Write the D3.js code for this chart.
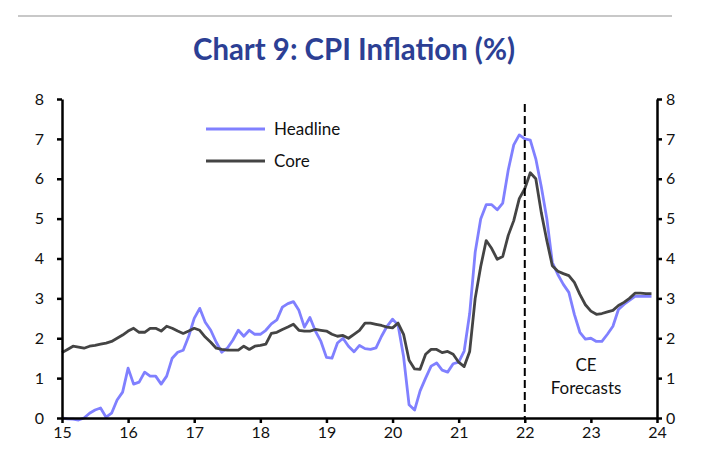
<!DOCTYPE html>
<html>
<head>
<meta charset="utf-8">
<script src="https://cdn.jsdelivr.net/npm/d3@7"></script>
<style>
  body { margin: 0; background: #fff; }
  svg text { font-family: Lato, "Open Sans", sans-serif; fill: #111; }
</style>
</head>
<body>
<div id="chart"></div>
<script>
// monthly data, Jan 2015 to Dec 2023 (2022 onwards = CE forecasts)
const startYear = 15;
const headline = [
  0.0, -0.02, -0.03, -0.05, 0.0, 0.12, 0.2, 0.25, 0.02, 0.12, 0.45, 0.65,
  1.25, 0.85, 0.9, 1.15, 1.05, 1.05, 0.85, 1.05, 1.5, 1.65, 1.7, 2.05,
  2.5, 2.75, 2.4, 2.2, 1.9, 1.65, 1.75, 1.95, 2.2, 2.05, 2.2, 2.1,
  2.1, 2.2, 2.36, 2.46, 2.78, 2.87, 2.92, 2.7, 2.28, 2.52, 2.18, 1.92,
  1.52, 1.5, 1.88, 2.0, 1.8, 1.66, 1.82, 1.74, 1.72, 1.76, 2.05, 2.3,
  2.48, 2.33, 1.54, 0.33, 0.2, 0.68, 1.0, 1.3, 1.38, 1.2, 1.15, 1.36,
  1.4, 1.68, 2.62, 4.16, 4.99, 5.35, 5.35, 5.22, 5.39, 6.22, 6.85, 7.1,
  7.0, 6.97, 6.5, 5.8, 5.0, 3.9, 3.6, 3.35, 3.15, 2.6, 2.15, 1.98,
  2.0, 1.92, 1.92, 2.1, 2.3, 2.72, 2.85, 2.95, 3.05, 3.05, 3.05, 3.05
];
const core = [
  1.64, 1.72, 1.8, 1.78, 1.75, 1.8, 1.82, 1.85, 1.88, 1.92, 2.0, 2.08,
  2.18, 2.25, 2.15, 2.15, 2.25, 2.25, 2.18, 2.3, 2.25, 2.18, 2.12, 2.18,
  2.25, 2.2, 2.03, 1.9, 1.75, 1.72, 1.7, 1.7, 1.7, 1.8, 1.72, 1.8,
  1.82, 1.85, 2.12, 2.15, 2.22, 2.28, 2.35, 2.2, 2.18, 2.18, 2.22, 2.2,
  2.18, 2.1, 2.05, 2.07, 2.0, 2.1, 2.2, 2.38, 2.38, 2.35, 2.32, 2.28,
  2.26, 2.38, 2.1, 1.45, 1.23, 1.22, 1.6, 1.72, 1.72, 1.64, 1.67, 1.6,
  1.4, 1.29, 1.67, 3.0, 3.8, 4.45, 4.25, 3.98, 4.05, 4.58, 4.95, 5.5,
  5.75, 6.15, 6.0, 5.15, 4.45, 3.82, 3.68, 3.62, 3.57, 3.4, 3.1, 2.84,
  2.68, 2.6, 2.62, 2.66, 2.7, 2.82, 2.9, 3.0, 3.13, 3.13, 3.12, 3.12
];
const yearTicks = [15, 16, 17, 18, 19, 20, 21, 22, 23, 24];
const valueTicks = [0, 1, 2, 3, 4, 5, 6, 7, 8];
const forecastStart = 22;
const seriesNames = ["Headline", "Core"];
const seriesColors = ["#8080ff", "#444444"];

const width = 703, height = 462;
const margin = {top: 99, right: 46, bottom: 44, left: 62};

const svg = d3.select("#chart")
  .append("svg")
  .attr("width", width)
  .attr("height", height);

// top rule and title
svg.append("line")
  .attr("x1", 18).attr("x2", 672)
  .attr("y1", 16).attr("y2", 16)
  .attr("stroke", "#c8c8c8").attr("stroke-width", 2);

svg.append("text")
  .attr("x", 193).attr("y", 60)
  .attr("textLength", 322)
  .attr("lengthAdjust", "spacingAndGlyphs")
  .style("font-family", "Lato, sans-serif")
  .style("font-weight", "bold")
  .style("font-size", "30px")
  .style("fill", "#2c3f94")
  .text("Chart 9: CPI Inflation (%)");

const x = d3.scaleLinear()
  .domain([15, 24])
  .range([margin.left, width - margin.right]);

const y = d3.scaleLinear()
  .domain([0, 8])
  .range([height - margin.bottom, margin.top]);

// lines
const line = d3.line()
  .x(function(d, i) { return x(startYear + i / 12); })
  .y(function(d) { return y(d); });

[headline, core].forEach(function(s, k) {
  svg.append("path")
    .datum(s)
    .attr("fill", "none")
    .attr("stroke", seriesColors[k])
    .attr("stroke-width", 2.8)
    .attr("stroke-linejoin", "round")
    .attr("d", line);
});

// forecast marker
svg.append("line")
  .attr("x1", x(forecastStart)).attr("x2", x(forecastStart))
  .attr("y1", 104).attr("y2", y(0))
  .attr("stroke", "#000")
  .attr("stroke-width", 2)
  .attr("stroke-dasharray", "8,4");

svg.append("text")
  .attr("x", 586).attr("y", 371)
  .attr("text-anchor", "middle")
  .style("font-size", "17px")
  .text("CE");
svg.append("text")
  .attr("x", 586).attr("y", 394)
  .attr("text-anchor", "middle")
  .style("font-size", "17px")
  .text("Forecasts");

// axes
function styleAxis(g) {
  g.select(".domain").attr("stroke", "#000").attr("stroke-width", 2.5);
  g.selectAll(".tick line").attr("stroke", "#000").attr("stroke-width", 2.5);
  g.selectAll(".tick text")
    .style("font-family", "Lato, sans-serif")
    .style("font-size", "16px")
    .style("fill", "#111");
}

svg.append("g")
  .attr("transform", "translate(" + margin.left + ",0)")
  .call(d3.axisLeft(y).tickValues(valueTicks).tickSize(5).tickSizeOuter(0).tickPadding(13))
  .call(styleAxis);

svg.append("g")
  .attr("transform", "translate(" + (width - margin.right) + ",0)")
  .call(d3.axisRight(y).tickValues(valueTicks).tickSize(5).tickSizeOuter(0).tickPadding(4))
  .call(styleAxis);

svg.append("g")
  .attr("transform", "translate(0," + y(0) + ")")
  .call(d3.axisBottom(x).tickValues(yearTicks).tickSize(5).tickSizeOuter(0).tickPadding(4))
  .call(styleAxis);

// legend
const legend = svg.append("g");
seriesNames.forEach(function(name, k) {
  const ly = 129 + k * 32;
  legend.append("line")
    .attr("x1", 206).attr("x2", 265)
    .attr("y1", ly).attr("y2", ly)
    .attr("stroke", seriesColors[k])
    .attr("stroke-width", 2.8);
  legend.append("text")
    .attr("x", 274).attr("y", ly)
    .attr("dy", "0.35em")
    .style("font-size", "17px")
    .text(name);
});
</script>
</body>
</html>
